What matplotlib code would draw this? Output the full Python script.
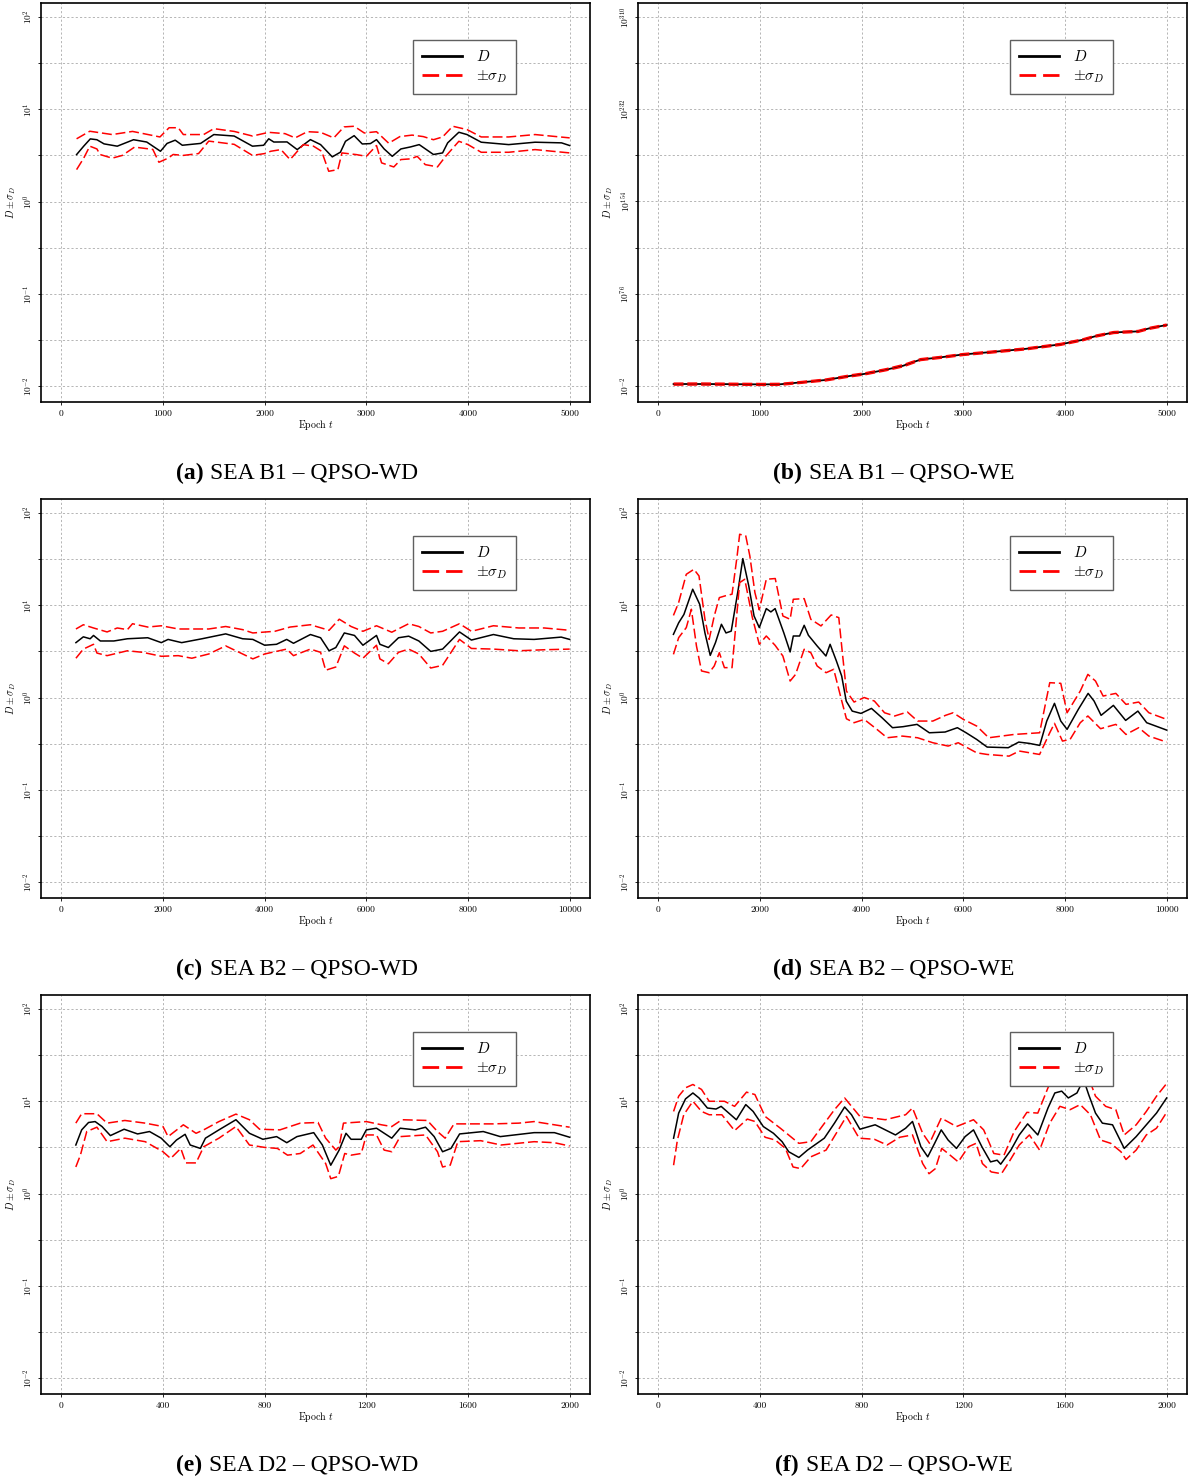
import numpy as np
import matplotlib
matplotlib.use("Agg")
import matplotlib.pyplot as plt
from matplotlib.lines import Line2D
from matplotlib.ticker import FixedLocator, FuncFormatter, NullFormatter
from matplotlib.offsetbox import TextArea, HPacker, AnchoredOffsetbox

plt.rcParams['font.family'] = ['cmr10', 'DejaVu Serif']
plt.rcParams['mathtext.fontset'] = 'cm'
plt.rcParams['axes.unicode_minus'] = False
plt.rcParams['axes.formatter.use_mathtext'] = True

# ---------------- data (log10 of D, D+sigma, D-sigma) ----------------
# (a) SEA B1 - QPSO-WD
t_a_D = [150, 220, 285, 350, 420, 550, 710, 840, 975, 1040, 1120, 1190, 1370, 1500, 1700, 1880, 1990, 2040,
         2090, 2220, 2320, 2450, 2550, 2665, 2745, 2795, 2880, 2960, 3040, 3100, 3175, 3255, 3340, 3435, 3520,
         3660, 3750, 3800, 3910, 3990, 4130, 4400, 4660, 4920, 5000]
lg_a_D = [0.509, 0.60, 0.679, 0.67, 0.625, 0.60, 0.67, 0.645, 0.545, 0.63, 0.665, 0.61, 0.63, 0.726, 0.71, 0.60,
          0.61, 0.68, 0.645, 0.646, 0.563, 0.671, 0.617, 0.484, 0.535, 0.653, 0.714, 0.624, 0.628, 0.671, 0.57,
          0.49, 0.57, 0.592, 0.617, 0.51, 0.527, 0.636, 0.751, 0.726, 0.643, 0.617, 0.643, 0.636, 0.607]
t_a_up = [150, 280, 500, 700, 970, 1060, 1150, 1200, 1400, 1500, 1700, 1880, 2040, 2200, 2300, 2420, 2550, 2680,
          2780, 2880, 2980, 3100, 3220, 3330, 3450, 3560, 3660, 3750, 3850, 3990, 4130, 4400, 4660, 5000]
lg_a_up = [0.68, 0.762, 0.726, 0.76, 0.70, 0.80, 0.80, 0.726, 0.726, 0.79, 0.76, 0.71, 0.75, 0.736, 0.69, 0.757,
           0.75, 0.69, 0.809, 0.816, 0.743, 0.757, 0.632, 0.704, 0.72, 0.704, 0.67, 0.70, 0.816, 0.78, 0.70, 0.70,
           0.726, 0.69]
t_a_lo = [150, 220, 280, 350, 380, 500, 600, 720, 900, 960, 1050, 1100, 1200, 1350, 1450, 1700, 1880, 2000, 2060,
          2160, 2250, 2380, 2480, 2560, 2630, 2720, 2760, 2900, 3000, 3100, 3150, 3270, 3340, 3440, 3500, 3580,
          3700, 3780, 3910, 4000, 4130, 4400, 4660, 5000]
lg_a_lo = [0.346, 0.47, 0.60, 0.57, 0.51, 0.47, 0.50, 0.59, 0.565, 0.426, 0.47, 0.51, 0.50, 0.52, 0.655, 0.62,
           0.50, 0.52, 0.545, 0.563, 0.455, 0.617, 0.60, 0.545, 0.328, 0.346, 0.527, 0.509, 0.49, 0.607, 0.419,
           0.375, 0.455, 0.463, 0.49, 0.40, 0.376, 0.49, 0.653, 0.617, 0.534, 0.534, 0.563, 0.527]

# (b) SEA B1 - QPSO-WE
t_b = [150, 400, 700, 1000, 1200, 1410, 1650, 1890, 2030, 2240, 2410, 2580, 2760, 3000, 3270, 3620, 3960, 4170,
       4310, 4480, 4720, 4830, 5000]
lg_b_D = [-0.3, -0.3, -0.4, -0.6, -0.5, 1.15, 3.16, 6.6, 8.3, 11.8, 15.2, 20.4, 22.1, 24.7, 26.7, 29.5, 33.3,
          37.0, 40.4, 43.3, 44.2, 46.8, 49.6]
lg_b_up = [0.4, 0.5, 0.3, 0.1, 0.2, 1.8, 3.9, 7.4, 9.1, 12.6, 16.1, 21.1, 22.8, 25.4, 27.4, 30.2, 34.0, 37.7,
           41.1, 44.0, 44.9, 47.5, 50.3]
lg_b_lo = [-1.2, -1.1, -1.2, -1.4, -1.3, 0.4, 2.4, 5.8, 7.5, 11.0, 14.3, 19.6, 21.3, 23.9, 25.9, 28.7, 32.5,
           36.2, 39.6, 42.5, 43.4, 46.0, 48.8]

# (c) SEA B2 - QPSO-WD
t_c_D = [287, 433, 567, 633, 767, 1033, 1300, 1700, 1967, 2100, 2367, 2767, 3233, 3567, 3767, 4000, 4233, 4433,
         4567, 4900, 5100, 5267, 5400, 5567, 5767, 5933, 6200, 6267, 6433, 6633, 6833, 7033, 7267, 7500, 7833,
         8067, 8500, 8900, 9300, 9833, 10000]
lg_c_D = [0.595, 0.658, 0.637, 0.673, 0.613, 0.613, 0.637, 0.648, 0.595, 0.63, 0.595, 0.637, 0.69, 0.637, 0.63,
          0.567, 0.577, 0.63, 0.588, 0.683, 0.648, 0.507, 0.542, 0.70, 0.673, 0.567, 0.673, 0.577, 0.542, 0.648,
          0.665, 0.613, 0.50, 0.525, 0.711, 0.623, 0.683, 0.637, 0.63, 0.655, 0.63]
t_c_up = [287, 433, 633, 900, 1100, 1300, 1400, 1700, 1967, 2300, 2900, 3233, 3567, 3767, 4200, 4500, 4900, 5267,
          5467, 5700, 5933, 6200, 6500, 6833, 7033, 7267, 7500, 7833, 8067, 8500, 9000, 9500, 10000]
lg_c_up = [0.743, 0.789, 0.754, 0.711, 0.754, 0.736, 0.80, 0.764, 0.778, 0.743, 0.743, 0.77, 0.736, 0.70, 0.718,
           0.764, 0.789, 0.729, 0.849, 0.77, 0.718, 0.778, 0.708, 0.80, 0.77, 0.70, 0.718, 0.80, 0.718, 0.778,
           0.754, 0.754, 0.729]
t_c_lo = [287, 433, 633, 700, 900, 1300, 1600, 1967, 2300, 2567, 2900, 3233, 3567, 3767, 4000, 4433, 4567, 4900,
          5100, 5200, 5400, 5567, 5767, 5933, 6200, 6267, 6433, 6633, 6833, 7033, 7267, 7500, 7833, 8067, 8500,
          9000, 9500, 10000]
lg_c_lo = [0.426, 0.525, 0.577, 0.482, 0.454, 0.507, 0.49, 0.447, 0.454, 0.426, 0.472, 0.56, 0.472, 0.419, 0.472,
           0.525, 0.454, 0.525, 0.49, 0.296, 0.331, 0.56, 0.482, 0.426, 0.567, 0.419, 0.366, 0.49, 0.525, 0.472,
           0.32, 0.349, 0.63, 0.532, 0.525, 0.507, 0.518, 0.525]

# (d) SEA B2 - QPSO-WE
t_d_D = [297, 400, 503, 676, 814, 917, 1021, 1124, 1241, 1331, 1434, 1572, 1662, 1779, 1883, 1986, 2124, 2214,
         2297, 2469, 2593, 2655, 2779, 2869, 2952, 3124, 3297, 3379, 3503, 3607, 3697, 3814, 3986, 4193, 4400,
         4607, 4814, 5090, 5331, 5641, 5883, 6055, 6262, 6469, 6883, 7090, 7297, 7503, 7641, 7793, 7917, 8041,
         8262, 8455, 8572, 8710, 8952, 9193, 9434, 9607, 10000]
lg_d_D = [0.685, 0.81, 0.90, 1.174, 1.01, 0.70, 0.457, 0.595, 0.794, 0.70, 0.72, 1.174, 1.506, 1.21, 0.884,
          0.758, 0.964, 0.928, 0.964, 0.70, 0.494, 0.667, 0.667, 0.783, 0.675, 0.559, 0.45, 0.577, 0.396, 0.233,
          -0.04, -0.147, -0.172, -0.118, -0.219, -0.327, -0.316, -0.291, -0.382, -0.374, -0.327, -0.382, -0.454,
          -0.537, -0.544, -0.483, -0.497, -0.519, -0.255, -0.063, -0.255, -0.345, -0.128, 0.045, -0.038, -0.193,
          -0.085, -0.248, -0.147, -0.273, -0.353]
t_d_up = [297, 400, 550, 700, 800, 917, 1000, 1100, 1200, 1350, 1450, 1550, 1600, 1720, 1800, 1900, 1986, 2124,
          2300, 2450, 2593, 2655, 2869, 3000, 3200, 3400, 3550, 3620, 3700, 3850, 4050, 4250, 4450, 4650, 4900,
          5100, 5400, 5650, 5800, 6000, 6262, 6500, 7000, 7500, 7700, 7917, 8041, 8300, 8450, 8600, 8750, 9000,
          9200, 9450, 9650, 10000]
lg_d_up = [0.89, 1.03, 1.336, 1.39, 1.318, 0.848, 0.63, 0.884, 1.083, 1.108, 1.12, 1.535, 1.77, 1.752, 1.535,
           1.137, 0.95, 1.282, 1.29, 0.884, 0.848, 1.065, 1.072, 0.848, 0.776, 0.895, 0.866, 0.486, 0.07, -0.049,
           0.0, -0.038, -0.165, -0.20, -0.157, -0.255, -0.255, -0.193, -0.165, -0.237, -0.309, -0.436, -0.40,
           -0.382, 0.161, 0.154, -0.165, 0.07, 0.251, 0.179, 0.016, 0.045, -0.074, -0.049, -0.165, -0.237]
t_d_lo = [297, 400, 550, 650, 750, 850, 1000, 1100, 1200, 1300, 1450, 1600, 1700, 1850, 1986, 2124, 2297, 2450,
          2593, 2700, 2869, 3000, 3124, 3300, 3450, 3600, 3700, 3850, 4050, 4300, 4500, 4800, 5100, 5400, 5700,
          5900, 6262, 6469, 6900, 7100, 7500, 7700, 7793, 7950, 8100, 8300, 8450, 8700, 9000, 9200, 9450, 9650,
          10000]
lg_d_lo = [0.468, 0.649, 0.758, 0.957, 0.559, 0.288, 0.269, 0.342, 0.486, 0.324, 0.324, 1.246, 1.282, 0.866,
           0.577, 0.667, 0.566, 0.45, 0.179, 0.251, 0.523, 0.486, 0.342, 0.269, 0.306, -0.02, -0.23, -0.273,
           -0.237, -0.345, -0.436, -0.418, -0.436, -0.49, -0.526, -0.49, -0.599, -0.617, -0.635, -0.58, -0.617,
           -0.382, -0.28, -0.472, -0.454, -0.273, -0.20, -0.338, -0.291, -0.40, -0.327, -0.418, -0.483]

# (e) SEA D2 - QPSO-WD
t_e_D = [57, 80, 107, 133, 160, 193, 247, 300, 347, 393, 427, 453, 487, 507, 547, 567, 620, 687, 740, 793, 847,
         887, 927, 993, 1027, 1060, 1093, 1120, 1140, 1180, 1200, 1240, 1300, 1333, 1393, 1433, 1467, 1500, 1533,
         1567, 1660, 1727, 1860, 1940, 2000]
lg_e_D = [0.526, 0.69, 0.77, 0.78, 0.726, 0.628, 0.697, 0.646, 0.672, 0.60, 0.507, 0.58, 0.642, 0.526, 0.489,
          0.60, 0.69, 0.80, 0.653, 0.588, 0.617, 0.551, 0.617, 0.66, 0.526, 0.307, 0.471, 0.653, 0.588, 0.588,
          0.69, 0.708, 0.60, 0.708, 0.69, 0.719, 0.617, 0.453, 0.489, 0.646, 0.672, 0.617, 0.66, 0.66, 0.61]
t_e_up = [57, 80, 140, 180, 250, 330, 400, 420, 480, 530, 560, 620, 687, 740, 780, 860, 940, 1010, 1040, 1080,
          1093, 1110, 1200, 1260, 1300, 1340, 1440, 1480, 1510, 1545, 1700, 1800, 1860, 1940, 2000]
lg_e_up = [0.763, 0.865, 0.865, 0.763, 0.792, 0.763, 0.726, 0.617, 0.745, 0.653, 0.69, 0.78, 0.861, 0.80, 0.697,
           0.69, 0.763, 0.77, 0.60, 0.471, 0.507, 0.763, 0.78, 0.745, 0.726, 0.80, 0.792, 0.672, 0.60, 0.755,
           0.755, 0.763, 0.78, 0.745, 0.719]
t_e_lo = [57, 75, 100, 140, 180, 250, 330, 400, 430, 470, 490, 530, 560, 620, 687, 740, 800, 850, 890, 940, 990,
          1040, 1060, 1090, 1115, 1140, 1180, 1200, 1240, 1270, 1300, 1333, 1433, 1480, 1500, 1530, 1560, 1650,
          1730, 1860, 1940, 2000]
lg_e_lo = [0.288, 0.416, 0.672, 0.719, 0.562, 0.60, 0.562, 0.453, 0.38, 0.489, 0.332, 0.332, 0.507, 0.60, 0.726,
           0.526, 0.50, 0.489, 0.416, 0.434, 0.526, 0.325, 0.161, 0.186, 0.434, 0.416, 0.434, 0.635, 0.635, 0.471,
           0.453, 0.617, 0.635, 0.453, 0.288, 0.307, 0.562, 0.573, 0.526, 0.562, 0.551, 0.515]

# (f) SEA D2 - QPSO-WE
t_f_D = [60, 80, 107, 136, 160, 193, 227, 247, 307, 344, 373, 413, 453, 487, 513, 553, 587, 653, 693, 733, 760,
         793, 853, 893, 933, 973, 1000, 1033, 1060, 1087, 1113, 1140, 1173, 1207, 1240, 1273, 1307, 1333, 1347,
         1387, 1420, 1453, 1493, 1533, 1560, 1587, 1613, 1647, 1673, 1693, 1720, 1747, 1787, 1833, 1880, 1920,
         1960, 2000]
lg_f_D = [0.60, 0.872, 1.026, 1.09, 1.036, 0.927, 0.916, 0.945, 0.80, 0.964, 0.89, 0.726, 0.653, 0.562, 0.453,
          0.391, 0.471, 0.60, 0.763, 0.938, 0.854, 0.697, 0.745, 0.69, 0.635, 0.708, 0.781, 0.507, 0.398, 0.544,
          0.69, 0.58, 0.489, 0.617, 0.69, 0.507, 0.343, 0.361, 0.318, 0.471, 0.635, 0.755, 0.635, 0.927, 1.09,
          1.11, 1.036, 1.09, 1.237, 1.073, 0.872, 0.763, 0.745, 0.489, 0.617, 0.745, 0.872, 1.036]
t_f_up = [60, 80, 107, 136, 170, 200, 260, 300, 347, 380, 420, 480, 553, 600, 693, 733, 793, 893, 973, 1000, 1040,
          1067, 1113, 1173, 1240, 1280, 1320, 1360, 1400, 1450, 1493, 1533, 1560, 1620, 1680, 1720, 1760, 1800,
          1833, 1880, 1920, 1960, 2000]
lg_f_up = [0.89, 1.055, 1.146, 1.182, 1.128, 1.0, 1.0, 0.945, 1.099, 1.073, 0.836, 0.708, 0.544, 0.562, 0.909,
           1.036, 0.836, 0.80, 0.854, 0.927, 0.653, 0.544, 0.818, 0.726, 0.80, 0.69, 0.434, 0.416, 0.672, 0.88,
           0.872, 1.146, 1.31, 1.237, 1.35, 1.055, 0.945, 0.909, 0.635, 0.745, 0.89, 1.055, 1.193]
t_f_lo = [60, 75, 100, 136, 170, 200, 250, 300, 350, 380, 420, 460, 500, 530, 560, 600, 660, 700, 740, 790, 850,
          900, 950, 1000, 1040, 1065, 1090, 1115, 1140, 1180, 1220, 1250, 1275, 1310, 1350, 1380, 1420, 1460, 1500,
          1540, 1580, 1620, 1660, 1700, 1740, 1780, 1820, 1840, 1880, 1920, 1960, 2000]
lg_f_lo = [0.307, 0.58, 0.854, 1.0, 0.89, 0.854, 0.854, 0.682, 0.807, 0.781, 0.61, 0.58, 0.489, 0.288, 0.27,
           0.398, 0.471, 0.653, 0.836, 0.60, 0.588, 0.526, 0.61, 0.635, 0.325, 0.215, 0.27, 0.489, 0.434, 0.343,
           0.507, 0.544, 0.325, 0.234, 0.215, 0.343, 0.526, 0.635, 0.471, 0.763, 0.945, 0.909, 0.964, 0.854, 0.58,
           0.544, 0.453, 0.369, 0.471, 0.635, 0.708, 0.88]

x_ticks_5k = [0, 1000, 2000, 3000, 4000, 5000]
x_ticks_10k = [0, 2000, 4000, 6000, 8000, 10000]
x_ticks_2k = [0, 400, 800, 1200, 1600, 2000]
legend_labels = [r"$D$", r"$\pm\sigma_D$"]
captions = [("(a)", "SEA B1 \u2013 QPSO-WD"), ("(b)", "SEA B1 \u2013 QPSO-WE"),
            ("(c)", "SEA B2 \u2013 QPSO-WD"), ("(d)", "SEA B2 \u2013 QPSO-WE"),
            ("(e)", "SEA D2 \u2013 QPSO-WD"), ("(f)", "SEA D2 \u2013 QPSO-WE")]

# ---------------- figure ----------------
W, H = 1192, 1481
fig = plt.figure(figsize=(W / 100, H / 100), dpi=100)

AX_W, AX_H = 549, 399
lefts = [41, 638]
tops = [3, 499, 995]
cap_x = [297, 894]
cap_y = [473, 969, 1465]

RED_DASH = (6.5, 2.5)


def style_axes(ax, xticks, xmax):
    span = xmax
    ax.set_xlim(-0.04 * span, 1.04 * span)
    ax.set_xticks(xticks)
    ax.xaxis.set_major_formatter(FuncFormatter(lambda v, p: "%d" % v))
    ax.grid(True, which='both', color='#b5b5b5', linestyle=(0, (2.2, 2.2)), linewidth=0.7)
    ax.set_axisbelow(True)
    for s in ax.spines.values():
        s.set_linewidth(1.2)
        s.set_color('black')
    ax.tick_params(axis='both', which='both', direction='out', length=2.5, width=0.6, labelsize=6.8)
    ax.tick_params(axis='y', which='major', labelrotation=90, pad=2)
    ax.tick_params(axis='x', which='major', pad=3)
    for lab in ax.get_yticklabels():
        lab.set_verticalalignment('center')
    ax.set_xlabel(r"Epoch $t$", fontsize=7.2)
    ax.xaxis.set_label_coords(0.5, -0.04)
    ax.set_ylabel(r"$D \pm \sigma_D$", fontsize=7.2)
    ax.yaxis.set_label_coords(-0.042, 0.5)


def add_legend(ax):
    hD = Line2D([], [], color='black', lw=2.0)
    hS = Line2D([], [], color='red', lw=2.0, dashes=(6.0, 2.5))
    leg = ax.legend([hD, hS], legend_labels, loc='upper right',
                    bbox_to_anchor=(0.865, 0.907), borderaxespad=0, fontsize=11,
                    handlelength=2.6, handletextpad=0.9, borderpad=0.6,
                    labelspacing=0.25,
                    fancybox=False, framealpha=1.0, edgecolor='#606060')
    leg.get_frame().set_linewidth(1.0)


log_panels = {
    0: (t_a_D, lg_a_D, t_a_up, lg_a_up, t_a_lo, lg_a_lo, x_ticks_5k, 5000),
    2: (t_c_D, lg_c_D, t_c_up, lg_c_up, t_c_lo, lg_c_lo, x_ticks_10k, 10000),
    3: (t_d_D, lg_d_D, t_d_up, lg_d_up, t_d_lo, lg_d_lo, x_ticks_10k, 10000),
    4: (t_e_D, lg_e_D, t_e_up, lg_e_up, t_e_lo, lg_e_lo, x_ticks_2k, 2000),
    5: (t_f_D, lg_f_D, t_f_up, lg_f_up, t_f_lo, lg_f_lo, x_ticks_2k, 2000),
}

for idx in range(6):
    r, c = divmod(idx, 2)
    rect = [lefts[c] / W, 1 - (tops[r] + AX_H) / H, AX_W / W, AX_H / H]
    ax = fig.add_axes(rect)
    if idx == 1:
        ax.plot(t_b, lg_b_D, color='black', lw=1.3, solid_joinstyle='round')
        ax.plot(t_b, lg_b_up, color='red', lw=1.1, dashes=RED_DASH)
        ax.plot(t_b, lg_b_lo, color='red', lw=1.1, dashes=RED_DASH)
        ax.set_ylim(-15.5, 321.8)
        ax.yaxis.set_major_locator(FixedLocator([-2, 76, 154, 232, 310]))
        ax.yaxis.set_minor_locator(FixedLocator([37, 115, 193, 271]))
        ax.yaxis.set_major_formatter(FuncFormatter(lambda v, p: r"$10^{%d}$" % int(round(v))))
        ax.yaxis.set_minor_formatter(NullFormatter())
        style_axes(ax, x_ticks_5k, 5000)
    else:
        tD, lD, tU, lU, tL, lL, xt, xm = log_panels[idx]
        ax.plot(tD, 10.0 ** np.array(lD), color='black', lw=1.1)
        ax.plot(tU, 10.0 ** np.array(lU), color='red', lw=1.1, dashes=RED_DASH)
        ax.plot(tL, 10.0 ** np.array(lL), color='red', lw=1.1, dashes=RED_DASH)
        ax.set_yscale('log')
        ax.set_ylim(10 ** -2.173, 10 ** 2.152)
        ax.yaxis.set_major_locator(FixedLocator([1e-2, 1e-1, 1e0, 1e1, 1e2]))
        ax.yaxis.set_minor_locator(FixedLocator(10.0 ** (np.arange(-2, 2) + 0.5)))
        ax.yaxis.set_major_formatter(FuncFormatter(lambda v, p: r"$10^{%d}$" % int(round(np.log10(v)))))
        ax.yaxis.set_minor_formatter(NullFormatter())
        style_axes(ax, xt, xm)
    add_legend(ax)

    # caption
    bold_part, rest = captions[idx]
    ta1 = TextArea(bold_part, textprops=dict(fontfamily='Liberation Serif', fontsize=17, fontweight='bold'))
    ta2 = TextArea(rest, textprops=dict(fontfamily='Liberation Serif', fontsize=17))
    box = HPacker(children=[ta1, ta2], sep=5, pad=0, align='baseline')
    anch = AnchoredOffsetbox(loc='center', child=box, pad=0, borderpad=0, frameon=False,
                             bbox_to_anchor=(cap_x[c] / W, 1 - cap_y[r] / H),
                             bbox_transform=fig.transFigure)
    fig.add_artist(anch)

fig.savefig("out.png", dpi=100)
